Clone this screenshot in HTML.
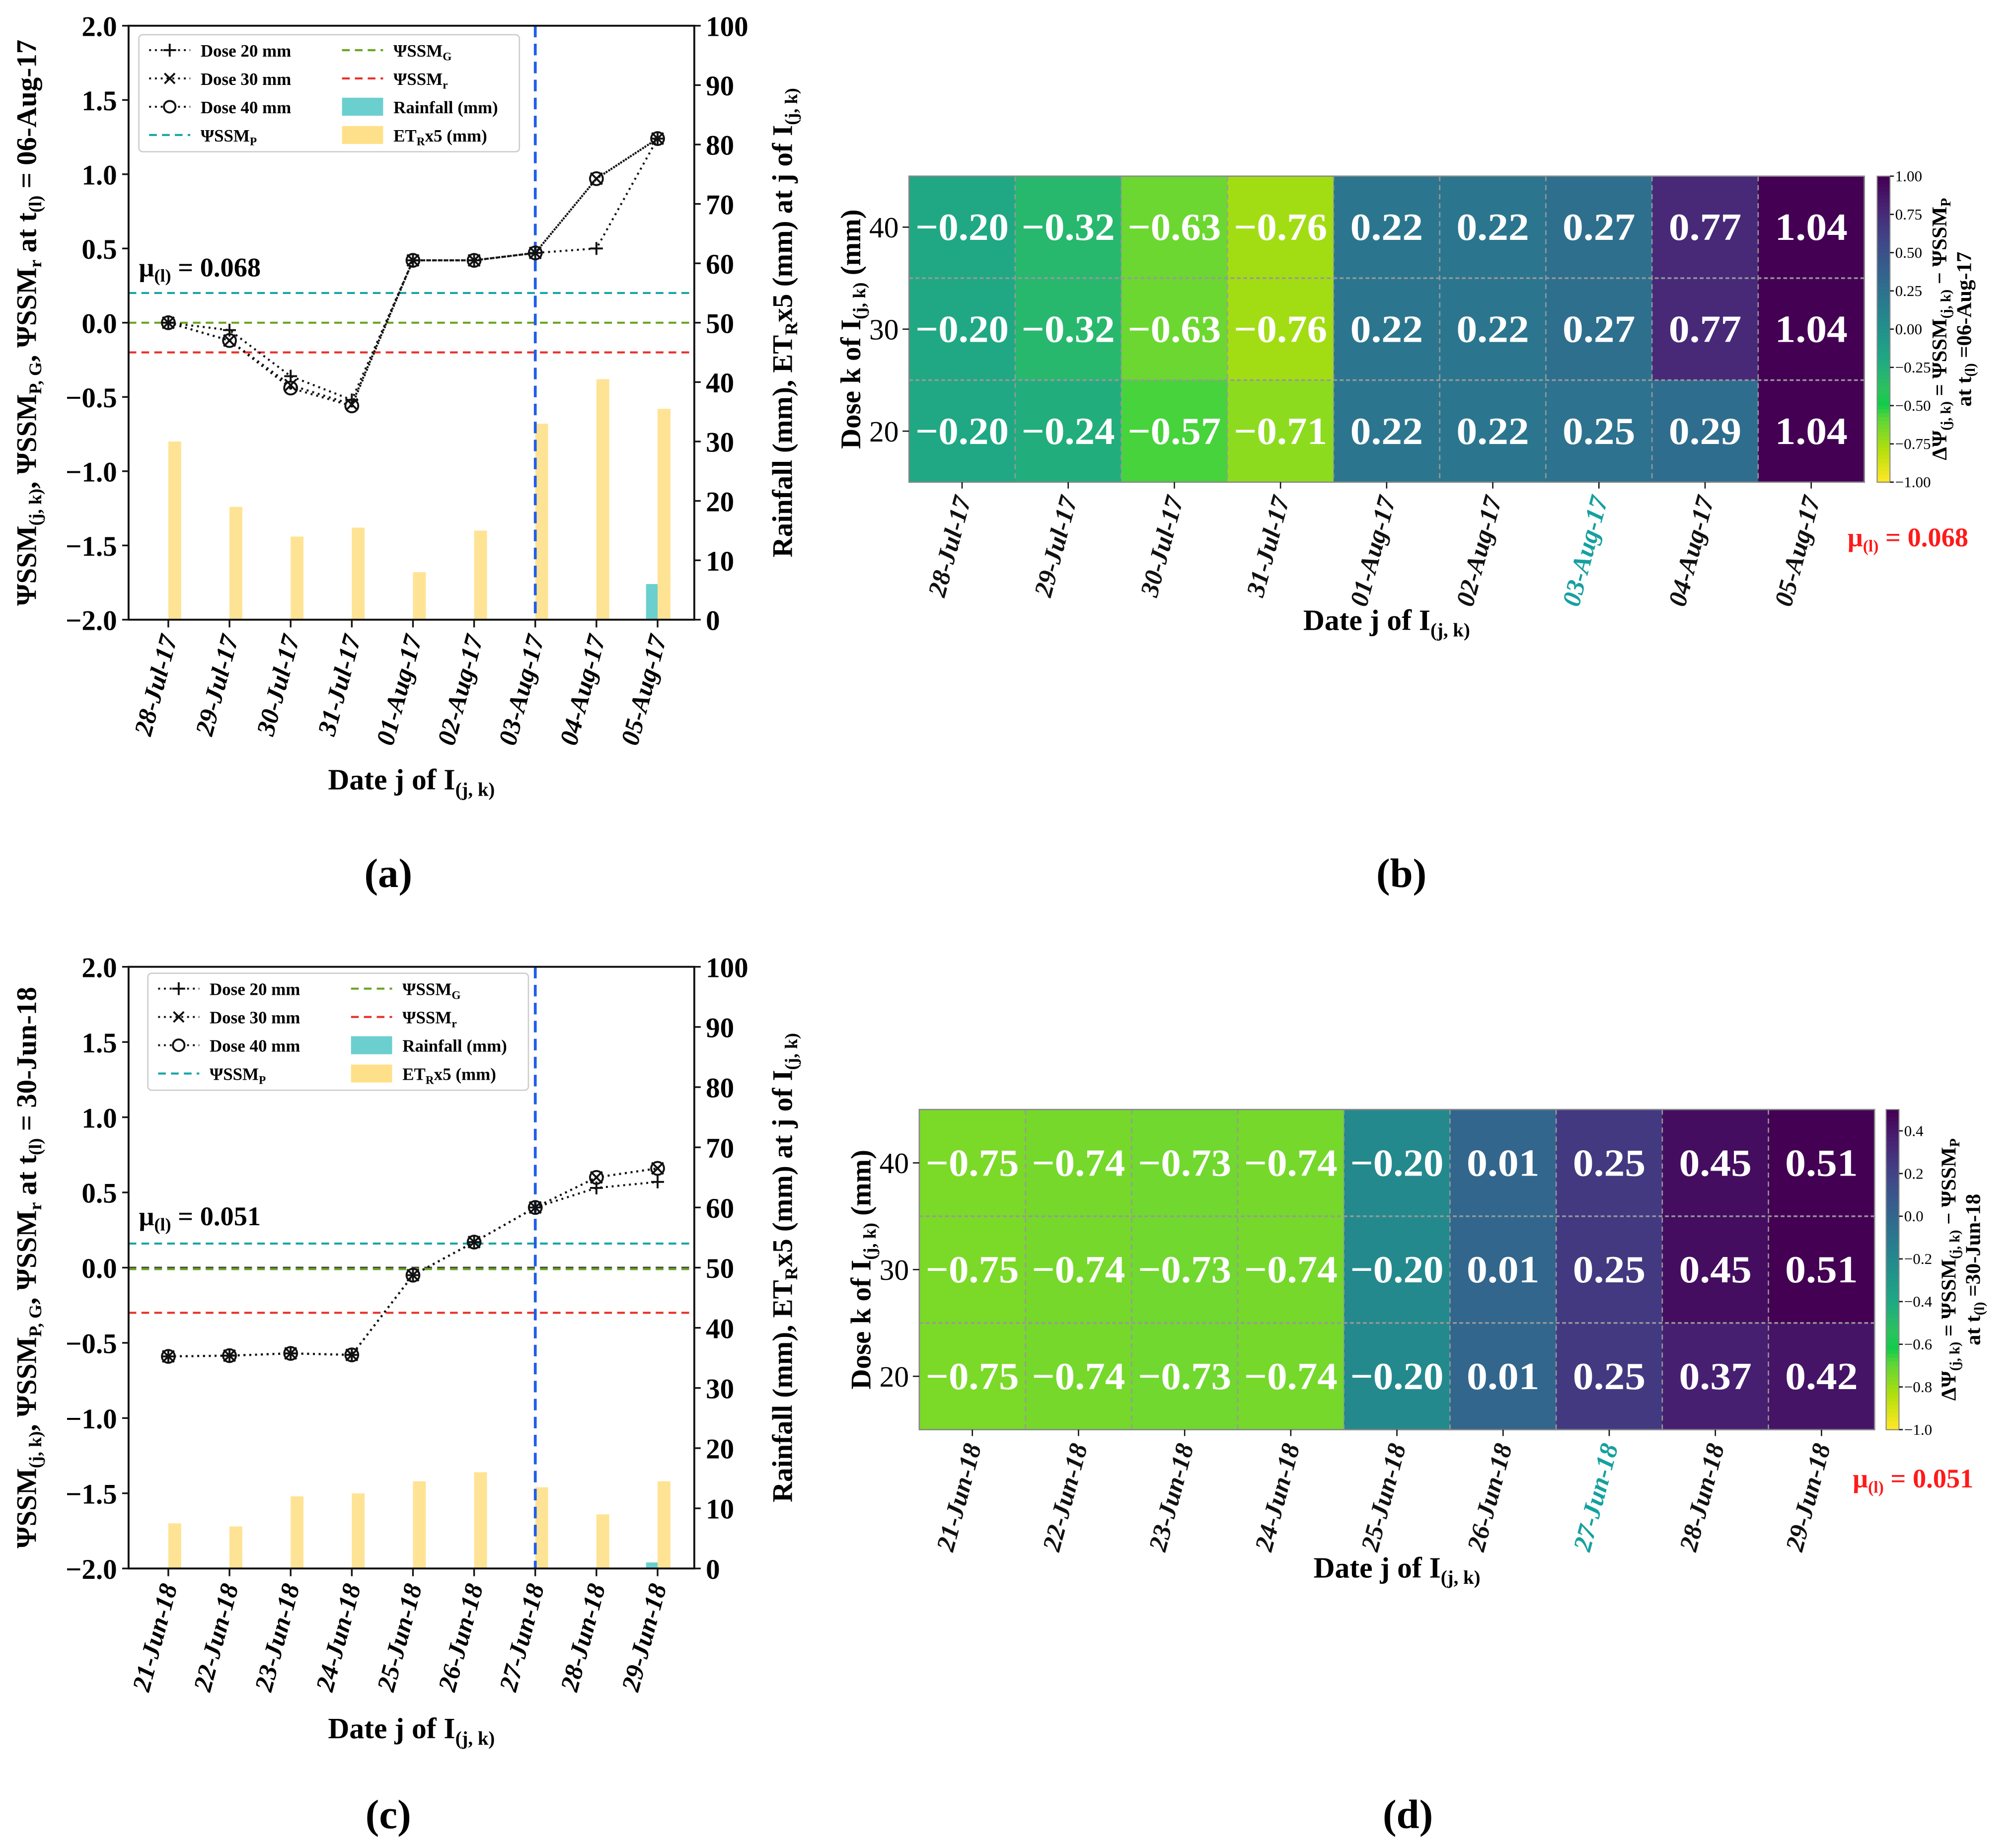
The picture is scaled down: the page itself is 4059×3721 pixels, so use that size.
<!DOCTYPE html>
<html><head><meta charset="utf-8"><style>
html,body{margin:0;padding:0;background:#fff;}
svg{display:block;}
text{font-family:"Liberation Serif",serif;}
</style></head><body>
<svg id="fig" xmlns="http://www.w3.org/2000/svg" width="4059" height="3721" viewBox="0 0 1568 1437.4">
<rect width="1568" height="1437.4" fill="#fff"/>
</svg>
<script>
// ---------- data panel (a) ----------
const datesA = ["28-Jul-17","29-Jul-17","30-Jul-17","31-Jul-17","01-Aug-17","02-Aug-17","03-Aug-17","04-Aug-17","05-Aug-17"];
const dose20A = [0,-0.05,-0.36,-0.52,0.42,0.42,0.47,0.50,1.24];
const dose30A = [0,-0.12,-0.42,-0.55,0.42,0.42,0.47,0.97,1.24];
const dose40A = [0,-0.12,-0.44,-0.56,0.42,0.42,0.47,0.97,1.24];
const etA = [30,19,14,15.5,8,15,33,40.5,35.5];
const rainA = [0,0,0,0,0,0,0,0,6];
const refA = {P:0.2, G:0.0, r:-0.2};
// ---------- data panel (c) ----------
const datesC = ["21-Jun-18","22-Jun-18","23-Jun-18","24-Jun-18","25-Jun-18","26-Jun-18","27-Jun-18","28-Jun-18","29-Jun-18"];
const dose20C = [-0.59,-0.585,-0.57,-0.58,-0.05,0.17,0.40,0.53,0.57];
const dose30C = [-0.59,-0.585,-0.57,-0.58,-0.05,0.17,0.40,0.60,0.66];
const dose40C = [-0.59,-0.585,-0.57,-0.58,-0.05,0.17,0.40,0.60,0.66];
const etC = [7.5,7,12,12.5,14.5,16,13.5,9,14.5];
const rainC = [0,0,0,0,0,0,0,0,1];
const refC = {P:0.16, G:-0.01, r:-0.30};
const leftTicks = [-2.0,-1.5,-1.0,-0.5,0.0,0.5,1.0,1.5,2.0];
const rightTicks = [0,10,20,30,40,50,60,70,80,90,100];
// ---------- heatmap (b) ----------
const doseRows = [40,30,20];
const heatB = [
 [-0.20,-0.32,-0.63,-0.76,0.22,0.22,0.27,0.77,1.04],
 [-0.20,-0.32,-0.63,-0.76,0.22,0.22,0.27,0.77,1.04],
 [-0.20,-0.24,-0.57,-0.71,0.22,0.22,0.25,0.29,1.04]];
const cbTicksB = [-1.00,-0.75,-0.50,-0.25,0.00,0.25,0.50,0.75,1.00];
// ---------- heatmap (d) ----------
const heatD = [
 [-0.75,-0.74,-0.73,-0.74,-0.20,0.01,0.25,0.45,0.51],
 [-0.75,-0.74,-0.73,-0.74,-0.20,0.01,0.25,0.45,0.51],
 [-0.75,-0.74,-0.73,-0.74,-0.20,0.01,0.25,0.37,0.42]];
const cbTicksD = [-1.0,-0.8,-0.6,-0.4,-0.2,0.0,0.2,0.4];

const NS="http://www.w3.org/2000/svg";
const svg=document.getElementById('fig');
function mk(tag,attrs,parent,txt){const e=document.createElementNS(NS,tag);for(const k in attrs)e.setAttribute(k,attrs[k]);if(txt!==undefined)e.textContent=txt;(parent||svg).appendChild(e);return e;}
function fmt(v,d){return (v<0?'\u2212':'')+Math.abs(v).toFixed(d);}

const VIR=[[0,'#440154'],[0.1,'#482475'],[0.2,'#414487'],[0.3,'#355f8d'],[0.4,'#2a788e'],[0.5,'#21918c'],[0.6,'#1fa883'],[0.7,'#2cc25e'],[0.75,'#10cc4a'],[0.8,'#5fd636'],[0.9,'#b3df0c'],[1,'#fde725']];
function hex(h){return [1,3,5].map(i=>parseInt(h.substr(i,2),16));}
function vir(t){t=Math.max(0,Math.min(1,t));for(let i=1;i<VIR.length;i++){if(t<=VIR[i][0]){const a=VIR[i-1],b=VIR[i];const f=(t-a[0])/(b[0]-a[0]);const ca=hex(a[1]),cb=hex(b[1]);return 'rgb('+ca.map((c,j)=>Math.round(c+(cb[j]-c)*f)).join(',')+')';}}return VIR[VIR.length-1][1];}

function linePanel(o){
  const g=mk('g',{});
  
  
  const L=100,R=540,T=o.top,B=o.bottom;
  const x=i=>L+(i+0.65)*(R-L)/9.25;
  const y=v=>B-(v+2)/4*(B-T);
  const y2=v=>B-v/100*(B-T);
  o.et.forEach((v,i)=>{const r=mk('rect',{x:x(i),y:y2(v),width:10,height:B-y2(v),fill:'#ffe08a',opacity:0.9},g);});
  o.rain.forEach((v,i)=>{if(v>0){const r=mk('rect',{x:x(i)-9,y:y2(v),width:9,height:B-y2(v),fill:'#6ccfcf'},g);}});
  const refs=[['P','#17a5a5'],['G','#6aa520'],['r','#e8302a']];
  if(o.zeroBlack){const l=mk('line',{x1:L,x2:R,y1:y(0),y2:y(0),stroke:'#444','stroke-width':1.5,'stroke-dasharray':'6,4'},g);}
  refs.forEach(([k,c])=>{const l=mk('line',{x1:L,x2:R,y1:y(o.ref[k]),y2:y(o.ref[k]),stroke:c,'stroke-width':1.6,'stroke-dasharray':'6,4'},g);});
  const vl=mk('line',{x1:x(6),x2:x(6),y1:T,y2:B,stroke:'#1f5fe8','stroke-width':2.2,'stroke-dasharray':'9,5'},g);
  
  const series=[[o.d20,'plus'],[o.d30,'x'],[o.d40,'o']];
  series.forEach(([d,m])=>{
    const p=mk('polyline',{points:d.map((v,i)=>x(i)+','+y(v)).join(' '),fill:'none',stroke:'#111','stroke-width':1.6,'stroke-dasharray':'1.5,3'},g);
    
    d.forEach((v,i)=>{const cx=x(i),cy=y(v);let e;
      if(m==='plus')e=mk('path',{d:`M${cx-5},${cy}h10M${cx},${cy-5}v10`,stroke:'#111','stroke-width':1.5},g);
      else if(m==='x')e=mk('path',{d:`M${cx-4.5},${cy-4.5}l9,9M${cx-4.5},${cy+4.5}l9,-9`,stroke:'#111','stroke-width':1.5},g);
      else{e=mk('circle',{cx:cx,cy:cy,r:5,fill:'none',stroke:'#111','stroke-width':1.5},g);mk('circle',{cx:cx,cy:cy,r:1.3,fill:'#111'},g);}
      });
  });
  mk('rect',{x:L,y:T,width:R-L,height:B-T,fill:'none',stroke:'#111','stroke-width':1.5},g);
  leftTicks.forEach(v=>{mk('line',{x1:L-5,x2:L,y1:y(v),y2:y(v),stroke:'#111','stroke-width':1.3},g);const t=mk('text',{x:L-9,y:y(v)+8,'text-anchor':'end','font-size':22,'font-weight':'bold'},g,fmt(v,1));});
  rightTicks.forEach(v=>{mk('line',{x1:R,x2:R+5,y1:y2(v),y2:y2(v),stroke:'#111','stroke-width':1.3},g);const t=mk('text',{x:R+9,y:y2(v)+8,'font-size':22,'font-weight':'bold'},g,String(v));});
  o.dates.forEach((d,i)=>{mk('line',{x1:x(i),x2:x(i),y1:B,y2:B+6,stroke:'#111','stroke-width':1.3},g);const t=mk('text',{x:0,y:0,transform:`translate(${x(i)+7},${B+14}) rotate(-75)`,'text-anchor':'end','font-size':20,'font-weight':'bold','font-style':'italic'},g,d);});
  const xl=mk('text',{x:320,y:B+132,'text-anchor':'middle','font-size':23,'font-weight':'bold'},g);
  xl.innerHTML='Date j of I<tspan font-size="15" dy="5">(j, k)</tspan>';
  const yl=mk('text',{transform:`translate(28,${(T+B)/2}) rotate(-90)`,'text-anchor':'middle','font-size':22,'font-weight':'bold'},g);
  yl.innerHTML=`ΨSSM<tspan font-size="14" dy="4">(j, k)</tspan><tspan dy="-4">, ΨSSM</tspan><tspan font-size="14" dy="4">P, G</tspan><tspan dy="-4">, ΨSSM</tspan><tspan font-size="14" dy="4">r</tspan><tspan dy="-4"> at t</tspan><tspan font-size="14" dy="4">(l)</tspan><tspan dy="-4"> = ${o.tl}</tspan>`;
  const yr=mk('text',{transform:`translate(616,${(T+B)/2}) rotate(-90)`,'text-anchor':'middle','font-size':22,'font-weight':'bold'},g);
  yr.innerHTML='Rainfall (mm), ET<tspan font-size="14" dy="4">R</tspan><tspan dy="-4">x5 (mm) at j of I</tspan><tspan font-size="14" dy="4">(j, k)</tspan>';
  const mu=mk('text',{x:108,y:o.muY,'font-size':21,'font-weight':'bold'},g);
  
  mu.innerHTML=`μ<tspan font-size="14" dy="4">(l)</tspan><tspan dy="-4"> = ${o.mu}</tspan>`;
  const lg=mk('g',{transform:`translate(${o.lgx},${o.lgy})`},g);
  mk('rect',{x:0,y:0,width:296,height:91,rx:3,fill:'#fff',stroke:'#ccc','stroke-width':1},lg);
  const ents=[['Dose 20 mm','plus'],['Dose 30 mm','x'],['Dose 40 mm','o'],['ΨSSM<tspan font-size="9" dy="3">P</tspan>','P']];
  ents.forEach(([lab,m],k)=>{const yy=12+k*22;
    if(m==='P')mk('line',{x1:8,x2:40,y1:yy,y2:yy,stroke:'#17a5a5','stroke-width':1.6,'stroke-dasharray':'6,4'},lg);
    else{mk('line',{x1:8,x2:40,y1:yy,y2:yy,stroke:'#111','stroke-width':1.5,'stroke-dasharray':'1.5,3'},lg);
      if(m==='plus')mk('path',{d:`M19,${yy}h10M24,${yy-5}v10`,stroke:'#111','stroke-width':1.5},lg);
      else if(m==='x')mk('path',{d:`M20,${yy-4}l8,8M20,${yy+4}l8,-8`,stroke:'#111','stroke-width':1.5},lg);
      else mk('circle',{cx:24,cy:yy,r:4.5,fill:'#fff',stroke:'#111','stroke-width':1.5},lg);}
    const t=mk('text',{x:48,y:yy+5,'font-size':13.5,'font-weight':'bold'},lg);t.innerHTML=lab;});
  const ents2=[['ΨSSM<tspan font-size="9" dy="3">G</tspan>','#6aa520','l'],['ΨSSM<tspan font-size="9" dy="3">r</tspan>','#e8302a','l'],['Rainfall (mm)','#6ccfcf','b'],['ET<tspan font-size="9" dy="3">R</tspan><tspan dy="-3">x5 (mm)</tspan>','#ffe08a','b']];
  ents2.forEach(([lab,c,tp],k)=>{const yy=12+k*22;
    if(tp==='l')mk('line',{x1:158,x2:190,y1:yy,y2:yy,stroke:c,'stroke-width':1.6,'stroke-dasharray':'6,4'},lg);
    else mk('rect',{x:158,y:yy-7,width:32,height:14,fill:c},lg);
    const t=mk('text',{x:198,y:yy+5,'font-size':13.5,'font-weight':'bold'},lg);t.innerHTML=lab;});
}

function heatPanel(o){
  const g=mk('g',{});
  const L=o.L,R=o.R,T=o.T,B=o.B,cw=(R-L)/9,rh=(B-T)/3;
  const col=v=>vir((o.vmax-v)/(o.vmax-o.vmin));
  o.data.forEach((row,r)=>row.forEach((v,c)=>{
    const rc=mk('rect',{x:L+c*cw,y:T+r*rh,width:cw+0.5,height:rh+0.5,fill:col(v)},g);
    const t=mk('text',{x:L+(c+0.5)*cw,y:T+(r+0.5)*rh+10,'text-anchor':'middle','font-size':30,'font-weight':'bold',fill:'#fff',textLength:cw-10,lengthAdjust:'spacingAndGlyphs'},g,fmt(v,2));
    if(fmt(v,2).length<5)t.setAttribute('textLength',cw-26);
    }));
  for(let c=1;c<9;c++)mk('line',{x1:L+c*cw,x2:L+c*cw,y1:T,y2:B,stroke:'#999','stroke-width':1,'stroke-dasharray':'4,3'},g);
  for(let r=1;r<3;r++)mk('line',{x1:L,x2:R,y1:T+r*rh,y2:T+r*rh,stroke:'#999','stroke-width':1.3,'stroke-dasharray':'3,2'},g);
  mk('rect',{x:L,y:T,width:R-L,height:B-T,fill:'none',stroke:'#888','stroke-width':1},g);
  doseRows.forEach((d,r)=>{const yy=T+(r+0.5)*rh;mk('line',{x1:L-5,x2:L,y1:yy,y2:yy,stroke:'#111'},g);const t=mk('text',{x:L-8,y:yy+8,'text-anchor':'end','font-size':23},g,String(d));});
  o.dates.forEach((d,c)=>{const xx=L+(c+0.5)*cw;mk('line',{x1:xx,x2:xx,y1:B,y2:B+5,stroke:'#111'},g);const t=mk('text',{transform:`translate(${xx+7},${B+13}) rotate(-75)`,'text-anchor':'end','font-size':20,'font-weight':'bold','font-style':'italic',fill:c===6?'#16a0a0':'#111'},g,d);});
  const xl=mk('text',{x:(L+R)/2,y:B+115,'text-anchor':'middle','font-size':23,'font-weight':'bold'},g);xl.innerHTML='Date j of I<tspan font-size="15" dy="5">(j, k)</tspan>';
  const yl=mk('text',{transform:`translate(${L-38},${(T+B)/2}) rotate(-90)`,'text-anchor':'middle','font-size':22,'font-weight':'bold'},g);yl.innerHTML='Dose k of I<tspan font-size="14" dy="4">(j, k)</tspan><tspan dy="-4"> (mm)</tspan>';
  const cx=o.cbx,cbw=10;const N=80;
  for(let i=0;i<N;i++){mk('rect',{x:cx,y:T+i*(B-T)/N,width:cbw,height:(B-T)/N+0.6,fill:vir(i/(N-1))},g);}
  mk('rect',{x:cx,y:T,width:cbw,height:B-T,fill:'none',stroke:'#888','stroke-width':0.8},g);
  o.cbt.forEach(v=>{const yy=B-(v-o.vmin)/(o.vmax-o.vmin)*(B-T);mk('line',{x1:cx+cbw,x2:cx+cbw+3,y1:yy,y2:yy,stroke:'#111'},g);const t=mk('text',{x:cx+cbw+4,y:yy+4,'font-size':12},g,fmt(v,o.cbd));});
  const c1=mk('text',{transform:`translate(${cx+54},${(T+B)/2}) rotate(-90)`,'text-anchor':'middle','font-size':16.5,'font-weight':'bold'},g);c1.innerHTML='ΔΨ<tspan font-size="11" dy="3">(j, k)</tspan><tspan dy="-3"> = ΨSSM</tspan><tspan font-size="11" dy="3">(j, k)</tspan><tspan dy="-3"> − ΨSSM</tspan><tspan font-size="11" dy="3">P</tspan>';
  const c2=mk('text',{transform:`translate(${cx+73},${(T+B)/2}) rotate(-90)`,'text-anchor':'middle','font-size':16.5,'font-weight':'bold'},g);c2.innerHTML=`at t<tspan font-size="11" dy="3">(l)</tspan><tspan dy="-3"> =${o.tl}</tspan>`;
  const mu=mk('text',{x:o.mux,y:o.muy,'font-size':21,'font-weight':'bold',fill:'#ff1a1a'},g);mu.innerHTML=`μ<tspan font-size="13" dy="4">(l)</tspan><tspan dy="-4"> = ${o.mu}</tspan>`;
}

linePanel({name:'panel-a',top:20,bottom:482,dates:datesA,d20:dose20A,d30:dose30A,d40:dose40A,et:etA,rain:rainA,ref:refA,tl:'06-Aug-17',mu:'0.068',muY:215,lgx:108,lgy:27});
linePanel({name:'panel-c',top:752,bottom:1220,dates:datesC,d20:dose20C,d30:dose30C,d40:dose40C,et:etC,rain:rainC,ref:refC,tl:'30-Jun-18',mu:'0.051',muY:953,lgx:115,lgy:757,zeroBlack:true});
heatPanel({name:'panel-b',L:707,R:1450,T:137,B:375,data:heatB,dates:datesA,vmin:-1,vmax:1,cbx:1460,cbt:cbTicksB,cbd:2,tl:'06-Aug-17',mu:'0.068',mux:1437,muy:425});
heatPanel({name:'panel-d',L:715,R:1458,T:863,B:1112,data:heatD,dates:datesC,vmin:-1,vmax:0.5,cbx:1467,cbt:cbTicksD,cbd:1,tl:'30-Jun-18',mu:'0.051',mux:1441,muy:1157});
[['(a)',302,690],['(b)',1090,690],['(c)',302,1422],['(d)',1095,1422]].forEach(([s,x,y])=>{const t=mk('text',{x:x,y:y,'text-anchor':'middle','font-size':32,'font-weight':'bold'},svg,s);});
</script>
</body></html>
